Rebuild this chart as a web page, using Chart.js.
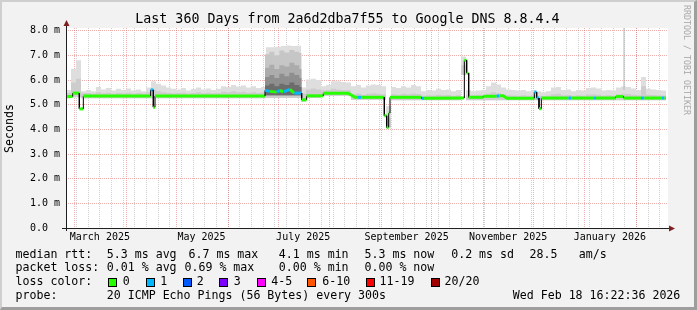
<!DOCTYPE html>
<html><head><meta charset="utf-8">
<script src="https://cdn.jsdelivr.net/npm/chart.js@4/dist/chart.umd.min.js"></script>
<style>
html,body{margin:0;padding:0;background:#f2f2f2;}
#wrap{position:relative;width:697px;height:310px;overflow:hidden;background:#f2f2f2;font-family:"DejaVu Sans Mono",monospace;color:#000;}
#c{position:absolute;left:0;top:0;}
.t{position:absolute;white-space:pre;line-height:1;font-size:11.6px;}
#title{position:absolute;left:-1px;width:697px;top:12px;text-align:center;white-space:pre;line-height:1;font-size:13.3px;}
#frame{position:absolute;left:0;top:0;width:697px;height:310px;box-sizing:border-box;border-style:solid;border-width:2px 3px 3px 2px;border-color:#cfcfcf #9e9e9e #9e9e9e #cfcfcf;pointer-events:none;}
.sw{position:absolute;top:278px;width:9px;height:9px;box-sizing:border-box;border:1px solid #000;}
#wm{position:absolute;left:690.5px;top:5px;transform-origin:0 0;transform:rotate(90deg);font-size:8.3px;line-height:1;white-space:pre;color:#a8a8a8;}
#ytitle{position:absolute;left:3.5px;top:152.5px;transform-origin:0 0;transform:rotate(-90deg);font-size:11.6px;line-height:1;white-space:pre;}
</style></head>
<body><div id="wrap">
<canvas id="c" width="697" height="310"></canvas>
<div id="title">Last 360 Days from 2a6d2dba7f55 to Google DNS 8.8.4.4</div>
<div id="ytitle">Seconds</div>
<div id="wm">RRDTOOL / TOBI OETIKER</div>
<div class="t" style="left:15.5px;top:248.7px">median rtt:</div>
<div class="t" style="left:106.8px;top:248.7px">5.3 ms avg</div>
<div class="t" style="left:188.5px;top:248.7px">6.7 ms max</div>
<div class="t" style="left:278.8px;top:248.7px">4.1 ms min</div>
<div class="t" style="left:364.5px;top:248.7px">5.3 ms now</div>
<div class="t" style="left:451.2px;top:248.7px">0.2 ms sd</div>
<div class="t" style="left:529.5px;top:248.7px">28.5</div>
<div class="t" style="left:578.8px;top:248.7px">am/s</div>
<div class="t" style="left:15.5px;top:262.4px">packet loss:</div>
<div class="t" style="left:106.8px;top:262.4px">0.01 % avg</div>
<div class="t" style="left:184.5px;top:262.4px">0.69 % max</div>
<div class="t" style="left:278.8px;top:262.4px">0.00 % min</div>
<div class="t" style="left:364.5px;top:262.4px">0.00 % now</div>
<div class="t" style="left:15.5px;top:276.1px">loss color:</div>
<div class="sw" style="left:108px;background:#26ff00"></div><div class="t" style="left:122.8px;top:276.1px">0</div>
<div class="sw" style="left:145.5px;background:#00b8ff"></div><div class="t" style="left:160.2px;top:276.1px">1</div>
<div class="sw" style="left:182.5px;background:#0059ff"></div><div class="t" style="left:196.8px;top:276.1px">2</div>
<div class="sw" style="left:219px;background:#7e00ff"></div><div class="t" style="left:233.8px;top:276.1px">3</div>
<div class="sw" style="left:256.5px;background:#ff00ff"></div><div class="t" style="left:271.2px;top:276.1px">4-5</div>
<div class="sw" style="left:307px;background:#ff5500"></div><div class="t" style="left:322.2px;top:276.1px">6-10</div>
<div class="sw" style="left:365.5px;background:#ff0000"></div><div class="t" style="left:379.5px;top:276.1px">11-19</div>
<div class="sw" style="left:431px;background:#a10000"></div><div class="t" style="left:444.5px;top:276.1px">20/20</div>
<div class="t" style="left:15.5px;top:289.8px">probe:</div>
<div class="t" style="left:106.8px;top:289.8px">20 ICMP Echo Pings (56 Bytes) every 300s</div>
<div class="t" style="left:512.8px;top:289.8px">Wed Feb 18 16:22:36 2026</div>
<div id="frame"></div>
</div>
<script>
// ---- time axis (days since Sun Feb 23 2025 16:22:36) ----
const monthStarts = [5.318, 36.318, 66.318, 97.318, 127.318, 158.318, 189.318, 219.318, 250.318, 280.318, 311.318, 342.318];
const labelDays = [20.318, 81.318, 142.318, 204.318, 265.318, 326.318];
const tickLabels = ['March 2025', 'May 2025', 'July 2025', 'September 2025', 'November 2025', 'January 2026'];
const firstSunday = 6.318;

// ---- smoke (ping distribution), values in ms, 3-day columns ----
const smokeDays = [0,3,6,9,12,15,18,21,24,27,30,33,36,39,42,45,48,51,54,57,60,63,66,69,72,75,78,81,84,87,90,93,96,99,102,105,108,111,114,117,120,123,126,129,132,135,138,141,144,147,150,153,156,159,162,165,168,171,174,177,180,183,186,189,192,195,198,201,204,207,210,213,216,219,222,225,228,231,234,237,240,243,246,249,252,255,258,261,264,267,270,273,276,279,282,285,288,291,294,297,300,303,306,309,312,315,318,321,324,327,330,333,336,339,342,345,348,351,354,357,360];
const smokeMax = [5.6,6.45,6.8,5.55,5.6,5.55,5.72,5.62,5.68,5.58,
 5.65,5.6,5.66,5.58,5.62,5.55,5.7,5.95,5.85,5.78,
 5.7,5.65,5.62,5.68,5.58,5.64,5.7,5.62,5.66,5.6,
 5.65,5.75,5.72,5.8,5.74,5.78,5.7,5.75,5.68,5.72,
 7.33,7.33,7.35,7.38,7.4,7.38,7.39,5.7,6.02,6.05,
 6.0,5.75,5.8,5.95,5.95,5.92,5.9,5.75,5.8,5.7,
 5.78,5.82,5.8,5.75,4.95,5.72,5.68,5.75,5.7,5.8,
 5.75,5.55,5.6,5.58,5.65,5.6,5.62,5.55,5.6,6.95,
 5.6,5.55,5.58,5.6,5.75,5.9,5.82,5.7,5.62,5.6,
 5.58,5.6,5.55,5.6,5.55,5.5,5.55,5.7,5.72,5.6,
 5.62,5.55,5.6,5.58,5.68,5.7,5.66,5.58,5.6,5.58,
 5.7,5.74,5.72,5.66,5.6,6.12,5.65,5.62,5.6,5.58,
 5.58];
const smokeMid = [5.47,5.9,6.05,5.46,5.47,5.45,5.5,5.46,5.48,5.45,
 5.47,5.46,5.48,5.45,5.47,5.45,5.5,5.62,5.55,5.5,
 5.48,5.46,5.47,5.48,5.45,5.47,5.5,5.46,5.48,5.46,
 5.47,5.52,5.5,5.55,5.5,5.52,5.48,5.5,5.47,5.5,
 5.6,5.6,5.6,5.6,5.6,5.6,5.6,5.45,5.62,5.66,
 5.62,5.58,5.6,5.65,5.62,5.6,5.6,5.42,5.45,5.4,
 5.44,5.46,5.44,5.42,4.45,5.42,5.4,5.44,5.42,5.45,
 5.43,5.36,5.38,5.37,5.4,5.38,5.39,5.36,5.38,6.6,
 5.38,5.38,5.4,5.4,5.45,5.5,5.46,5.42,5.38,5.37,
 5.36,5.38,5.36,5.38,5.36,5.35,5.37,5.42,5.44,5.38,
 5.39,5.36,5.38,5.37,5.41,5.42,5.4,5.37,5.38,5.37,
 5.42,5.44,5.43,5.4,5.38,5.75,5.4,5.39,5.38,5.37,
 5.37];
const smokeLow = [5.26,5.3,5.3,5.26,5.26,5.26,5.26,5.26,5.26,5.26,
 5.26,5.26,5.26,5.26,5.26,5.26,5.26,5.26,5.26,5.26,
 5.26,5.26,5.26,5.26,5.26,5.26,5.26,5.26,5.26,5.26,
 5.26,5.26,5.26,5.26,5.26,5.26,5.26,5.26,5.26,5.26,
 5.27,5.27,5.27,5.27,5.27,5.27,5.27,5.12,5.27,5.27,
 5.27,5.36,5.36,5.36,5.36,5.36,5.36,5.2,5.2,5.2,
 5.2,5.2,5.2,5.2,4.08,5.18,5.18,5.18,5.18,5.18,
 5.18,5.18,5.18,5.18,5.18,5.18,5.18,5.18,5.18,6.2,
 5.18,5.18,5.18,5.18,5.18,5.18,5.18,5.18,5.18,5.18,
 5.18,5.18,5.18,5.18,5.18,5.18,5.18,5.18,5.18,5.18,
 5.18,5.18,5.18,5.18,5.18,5.18,5.18,5.18,5.18,5.18,
 5.18,5.18,5.18,5.18,5.18,5.18,5.18,5.18,5.18,5.18,
 5.18];

// ---- high-variance period (June/July) smoke layers ----
const blockDays = [119.4, 122, 125, 128, 131, 134, 137, 140, 141.4];
const blockP90 = [7.05, 7.15, 7.0, 7.2, 7.12, 7.22, 7.15, 7.1, 7.1];
const blockP80 = [6.5, 6.62, 6.45, 6.6, 6.55, 6.7, 6.6, 6.45, 6.45];
const blockP70 = [6.12, 6.2, 6.08, 6.25, 6.15, 6.3, 6.2, 6.08, 6.08];
const blockP60 = [5.78, 5.85, 5.75, 5.85, 5.8, 5.9, 5.8, 5.72, 5.72];
const blockBase = [5.38, 5.38, 5.38, 5.38, 5.38, 5.38, 5.38, 5.38, 5.38];

// ---- single outlier ping ----
const outlierDays = [334.8, 334.8];
const outlierValues = [5.6, 8.3];

// ---- median rtt with packet-loss class (0 = none, 1 = 1 lost) ----
const medDays = [0,4,4,8,8,10.4,10.4,50.8,50.8,52.4,52.4,53.4,53.4,119.4,119.4,122.4,126.4,128.4,130.4,134.4,137,141.4,141.4,144.4,144.4,154.4,154.4,169.4,173.4,175,177,191,191,192.4,192.4,193.6,193.6,194.4,194.4,213.4,213.4,214.8,239,239,240.4,240.4,241.6,241.6,250.4,250.4,258.4,260,262.2,264.6,281,281,282.4,282.4,283.8,283.8,285.2,285.2,301.5,303,316.5,318,330,330,334.5,334.5,345,347,357.5,359,360];
const medValues = [5.33,5.33,5.47,5.47,4.83,4.83,5.35,5.35,5.6,5.6,4.9,4.9,5.35,5.35,5.58,5.54,5.51,5.58,5.52,5.62,5.47,5.47,5.2,5.2,5.36,5.36,5.46,5.46,5.3,5.3,5.3,5.3,4.55,4.55,4.08,4.08,4.66,4.66,5.3,5.3,5.26,5.26,5.27,6.8,6.8,6.28,6.28,5.3,5.3,5.34,5.34,5.36,5.36,5.26,5.26,5.51,5.51,5.27,5.27,4.84,4.84,5.27,5.27,5.27,5.27,5.27,5.27,5.33,5.33,5.27,5.27,5.27,5.27,5.27,5.27];
const medLoss = [0,0,0,0,0,0,0,0,1,0,0,0,0,0,1,0,1,0,1,0,1,0,0,0,0,0,0,0,0,1,0,0,0,0,0,0,0,0,0,0,1,0,0,0,0,0,0,0,0,0,1,0,0,0,0,1,1,1,0,0,0,0,1,0,1,0,0,0,0,0,1,0,1,0,0];

const lossColor = ['#26ff00', '#00b8ff'];

function pts(xs, ys) { return xs.map((x, i) => ({x: x, y: ys[i]})); }

const RED = 'rgba(222,79,79,0.45)';
const GREY = 'rgba(143,143,143,0.42)';
const FONT = "'DejaVu Sans Mono', monospace";
const r3 = v => Math.round(v * 1000) / 1000;

// grid ticks: weekly (Sunday) minor lines, monthly major lines, label anchors
const weekTicks = [];
for (let k = 0; firstSunday + 7 * k < 360; k++) weekTicks.push(r3(firstSunday + 7 * k));
const xTickItems = [
  ...weekTicks.map(v => ({ value: v, kind: 'week' })),
  ...monthStarts.map(v => ({ value: v, kind: 'month' })),
  ...labelDays.map((v, i) => ({ value: v + 0.0001, kind: 'label', text: tickLabels[i] }))
].sort((a, b) => a.value - b.value);
const yTickValues = [];
for (let v = 0; v <= 8; v += 0.5) yTickValues.push(v);

const areaDs = (label, xs, ys, color, target, order) => ({
  label, data: pts(xs, ys), stepped: 'before', borderWidth: 0, pointRadius: 0,
  backgroundColor: color, borderColor: 'rgba(0,0,0,0)', fill: target, order
});

const frame = {
  id: 'frameAxes',
  beforeDraw(chart) {
    const {ctx, chartArea: a} = chart;
    ctx.save();
    ctx.fillStyle = '#ffffff';
    ctx.fillRect(a.left, a.top, a.right - a.left, a.bottom - a.top);
    ctx.restore();
  },
  afterDraw(chart) {
    const {ctx, chartArea: a} = chart;
    ctx.save();
    ctx.strokeStyle = '#1f1f1f';
    ctx.lineWidth = 1;
    ctx.beginPath();
    ctx.moveTo(a.left - 4, a.bottom + 0.5); ctx.lineTo(a.right + 3, a.bottom + 0.5);
    ctx.moveTo(a.left + 0.5, a.bottom + 3); ctx.lineTo(a.left + 0.5, a.top - 3);
    ctx.stroke();
    ctx.fillStyle = '#801f1f';
    ctx.beginPath();
    ctx.moveTo(a.left + 0.5 - 3, a.top - 2); ctx.lineTo(a.left + 0.5 + 3, a.top - 2); ctx.lineTo(a.left + 0.5, a.top - 8);
    ctx.closePath(); ctx.fill();
    ctx.beginPath();
    ctx.moveTo(a.right + 1, a.bottom + 0.5 - 3); ctx.lineTo(a.right + 1, a.bottom + 0.5 + 3); ctx.lineTo(a.right + 7, a.bottom + 0.5);
    ctx.closePath(); ctx.fill();
    ctx.restore();
  }
};

new Chart(document.getElementById('c'), {
  type: 'line',
  data: {
    datasets: [
      { // 0 median
        label: 'median', data: pts(medDays, medValues), fill: false, tension: 0, pointRadius: 0,
        borderColor: '#26ff00', borderWidth: 3, borderCapStyle: 'butt', order: 0,
        segment: {
          borderColor: c => c.p0.parsed.x === c.p1.parsed.x ? '#000000' : lossColor[medLoss[c.p0DataIndex]],
          borderWidth: c => c.p0.parsed.x === c.p1.parsed.x ? 1 : 3
        }
      },
      { // 1 outlier
        label: 'outlier', data: pts(outlierDays, outlierValues), fill: false, pointRadius: 0,
        borderColor: '#b4b4b4', borderWidth: 1, order: 1
      },
      areaDs('p60', blockDays, blockP60, '#6c6c6c', 6, 2),
      areaDs('p70', blockDays, blockP70, '#8e8e8e', 6, 3),
      areaDs('p80', blockDays, blockP80, '#acacac', 6, 4),
      areaDs('p90', blockDays, blockP90, '#c6c6c6', 6, 5),
      areaDs('blockBase', blockDays, blockBase, 'rgba(0,0,0,0)', false, 6),
      areaDs('mid', smokeDays, smokeMid, '#cdcdcd', 9, 7),
      areaDs('max', smokeDays, smokeMax, '#dedede', 9, 8),
      areaDs('low', smokeDays, smokeLow, 'rgba(0,0,0,0)', false, 9)
    ]
  },
  options: {
    responsive: false, animation: false, devicePixelRatio: 1,
    events: [],
    layout: { padding: { left: 0, right: 29, top: 28, bottom: 0 } },
    plugins: { legend: { display: false }, tooltip: { enabled: false } },
    scales: {
      x: {
        type: 'linear', min: 0, max: 361.2, z: 1,
        afterBuildTicks: s => { s.ticks = xTickItems.map(t => ({ value: t.value })); },
        afterFit: s => { s.height = 82; s.paddingLeft = 0; s.paddingRight = 0; },
        ticks: {
          autoSkip: false, maxRotation: 0, minRotation: 0, padding: 3, color: '#000',
          font: { family: FONT, size: 10 },
          callback: (v, i) => { const t = xTickItems[i]; return t && t.kind === 'label' ? t.text : ''; }
        },
        grid: {
          drawTicks: false, lineWidth: 1,
          color: c => {
            const t = xTickItems[c.index];
            if (!t || t.kind === 'label') return 'rgba(0,0,0,0)';
            return t.kind === 'month' ? RED : GREY;
          }
        },
        border: { display: false, dash: [1, 1] }
      },
      y: {
        type: 'linear', min: 0, max: 8.11, z: 1,
        afterBuildTicks: s => { s.ticks = yTickValues.map(v => ({ value: v })); },
        afterFit: s => { s.width = 66; s.paddingTop = 0; s.paddingBottom = 0; },
        ticks: {
          padding: 6, color: '#000', font: { family: FONT, size: 10 },
          callback: v => Number.isInteger(v) ? (v === 0 ? '0.0  ' : v.toFixed(1) + ' m') : ''
        },
        grid: {
          drawTicks: false, lineWidth: 1,
          color: c => (c.tick && Number.isInteger(c.tick.value)) ? RED : GREY
        },
        border: { display: false, dash: [1, 1] }
      }
    }
  },
  plugins: [frame]
});
</script>
</body></html>
